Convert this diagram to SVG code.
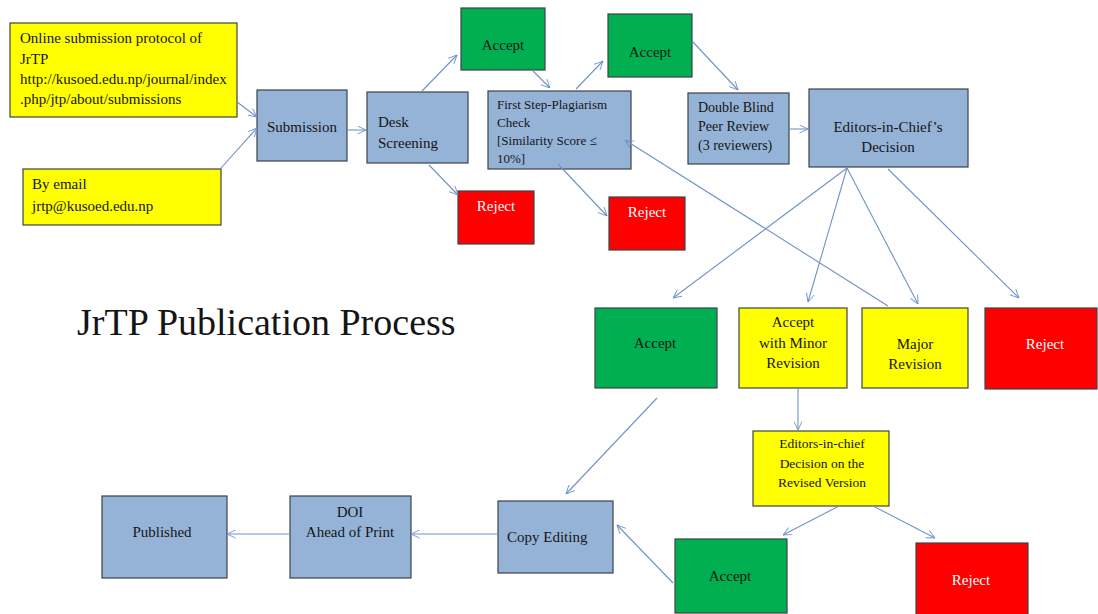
<svg xmlns="http://www.w3.org/2000/svg" width="1098" height="614" viewBox="0 0 1098 614">
<defs>
<marker id="ah" viewBox="0 0 10 10" refX="10" refY="5" markerWidth="9" markerHeight="9" markerUnits="userSpaceOnUse" orient="auto">
<path d="M0.5,0.5 L10,5 L0.5,9.5" fill="none" stroke="#6f93c6" stroke-width="1"/>
</marker>
</defs>
<style>
rect{stroke:#3c4148;stroke-width:1.2}
.b{fill:#95b3d7}
.g{fill:#00b050}
.r{fill:#ff0000}
.y{fill:#ffff00}
text{font-family:"Liberation Serif","Times New Roman",serif;font-size:15px;fill:#151515}
.c{text-anchor:middle}
.w{fill:#ffffff}
.s{font-size:13px}
.m{font-size:14px}
#connectors line{stroke:#6f93c6;stroke-width:1.1;marker-end:url(#ah)}
</style>
<rect width="1098" height="614" fill="#ffffff" style="stroke:none"/>
<text x="77" y="335" style="font-size:38px">JrTP Publication Process</text>

<g id="online">
<rect class="y" x="10" y="23" width="227" height="94"/>
<text x="20" y="43">Online submission protocol of</text>
<text x="20" y="64">JrTP</text>
<text x="20" y="84">http://kusoed.edu.np/journal/index</text>
<text x="20" y="104">.php/jtp/about/submissions</text>
</g>
<g id="email">
<rect class="y" x="23" y="169" width="198" height="56"/>
<text x="32" y="189">By email</text>
<text x="32" y="211">jrtp@kusoed.edu.np</text>
</g>
<g id="submission">
<rect class="b" x="257" y="90" width="90" height="71"/>
<text class="c" x="302" y="132">Submission</text>
</g>
<g id="desk">
<rect class="b" x="367" y="92" width="101" height="71"/>
<text x="378" y="127">Desk</text>
<text x="378" y="148">Screening</text>
</g>
<g id="accept1">
<rect class="g" x="461" y="8" width="84" height="62"/>
<text class="c" x="503" y="50">Accept</text>
</g>
<g id="reject1">
<rect class="r" x="458" y="191" width="76" height="53"/>
<text class="c w" x="496" y="211">Reject</text>
</g>
<g id="plagiarism">
<rect class="b" x="488" y="91" width="143" height="78"/>
<text class="s" x="497" y="109">First Step-Plagiarism</text>
<text class="s" x="497" y="127">Check</text>
<text class="s" x="497" y="145">[Similarity Score ≤</text>
<text class="s" x="497" y="163">10%]</text>
</g>
<g id="accept2">
<rect class="g" x="608" y="14" width="84" height="63"/>
<text class="c" x="650" y="57">Accept</text>
</g>
<g id="reject2">
<rect class="r" x="609" y="197" width="76" height="53"/>
<text class="c w" x="647" y="217">Reject</text>
</g>
<g id="review">
<rect class="b" x="688" y="93" width="101" height="71"/>
<text class="m" x="698" y="112">Double Blind</text>
<text class="m" x="698" y="131">Peer Review</text>
<text class="m" x="698" y="150">(3 reviewers)</text>
</g>
<g id="editors">
<rect class="b" x="809" y="89" width="159" height="78"/>
<text class="c" x="888" y="132">Editors-in-Chief’s</text>
<text class="c" x="888" y="152">Decision</text>
</g>
<g id="accept3">
<rect class="g" x="595" y="308" width="122" height="80"/>
<text class="c" x="655" y="348">Accept</text>
</g>
<g id="minor">
<rect class="y" x="739" y="308" width="108" height="80"/>
<text class="c" x="793" y="327">Accept</text>
<text class="c" x="793" y="348">with Minor</text>
<text class="c" x="793" y="368">Revision</text>
</g>
<g id="major">
<rect class="y" x="862" y="308" width="106" height="80"/>
<text class="c" x="915" y="349">Major</text>
<text class="c" x="915" y="369">Revision</text>
</g>
<g id="reject3">
<rect class="r" x="985" y="308" width="112" height="81"/>
<text class="c w" x="1045" y="349">Reject</text>
</g>
<g id="revised">
<rect class="y" x="753" y="431" width="136" height="75"/>
<text class="c" x="822" y="448" style="font-size:13.5px">Editors-in-chief</text>
<text class="c" x="822" y="468" style="font-size:13.5px">Decision on the</text>
<text class="c" x="822" y="487" style="font-size:13.5px">Revised Version</text>
</g>
<g id="accept4">
<rect class="g" x="675" y="539" width="112" height="74"/>
<text class="c" x="730" y="581">Accept</text>
</g>
<g id="reject4">
<rect class="r" x="916" y="543" width="112" height="72"/>
<text class="c w" x="971" y="585">Reject</text>
</g>
<g id="copy">
<rect class="b" x="498" y="501" width="115" height="72"/>
<text x="507" y="542">Copy Editing</text>
</g>
<g id="doi">
<rect class="b" x="290" y="496" width="121" height="82"/>
<text class="c" x="350" y="517">DOI</text>
<text class="c" x="350" y="537">Ahead of Print</text>
</g>
<g id="published">
<rect class="b" x="102" y="496" width="125" height="82"/>
<text class="c" x="162" y="537">Published</text>
</g>

<g id="connectors">
<line x1="237" y1="102" x2="257" y2="117"/>
<line x1="221" y1="168" x2="257" y2="128"/>
<line x1="347" y1="130" x2="366" y2="130"/>
<line x1="422" y1="91" x2="457" y2="55"/>
<line x1="429" y1="165" x2="458" y2="195"/>
<line x1="533" y1="71" x2="550" y2="88"/>
<line x1="576" y1="89" x2="603" y2="61"/>
<line x1="558" y1="164" x2="607" y2="216"/>
<line x1="692" y1="41" x2="738" y2="90"/>
<line x1="789" y1="129" x2="808" y2="129"/>
<line x1="847" y1="168" x2="673" y2="298"/>
<line x1="847" y1="168" x2="808" y2="302"/>
<line x1="847" y1="168" x2="918" y2="304"/>
<line x1="888" y1="169" x2="1019" y2="298"/>
<line x1="888" y1="306" x2="625" y2="140"/>
<line x1="798" y1="388" x2="798" y2="430"/>
<line x1="839" y1="506" x2="783" y2="535"/>
<line x1="873" y1="506" x2="935" y2="538"/>
<line x1="657" y1="398" x2="566" y2="494"/>
<line x1="673" y1="583" x2="617" y2="525"/>
<line x1="498" y1="534" x2="411" y2="534"/>
<line x1="290" y1="534" x2="227" y2="534"/>
</g>
</svg>
